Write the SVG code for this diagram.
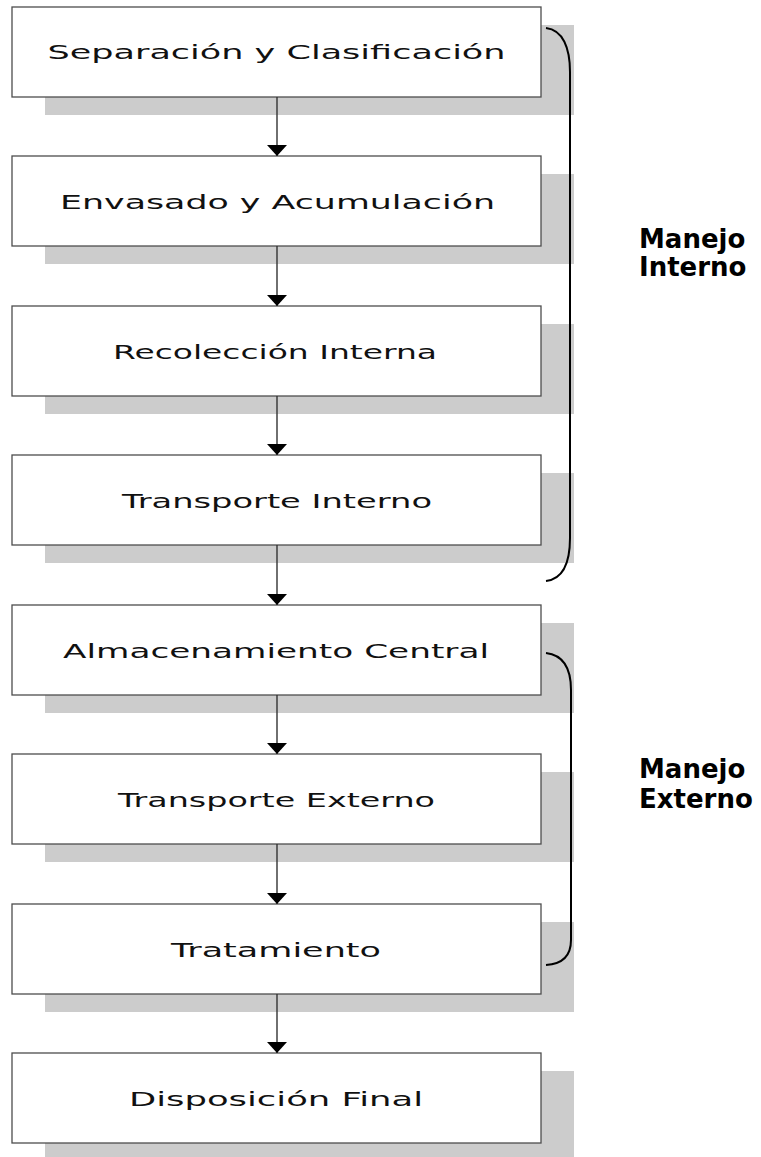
<svg xmlns="http://www.w3.org/2000/svg" width="761" height="1157" viewBox="0 0 761 1157">
  <style>
    .shadow { fill: #cccccc; }
    .box { fill: #ffffff; stroke: #4d4d4d; stroke-width: 1.3; }
    .step { font-family: "DejaVu Sans", "Liberation Sans", sans-serif; font-size: 20px; fill: #111111; text-anchor: middle; }
    .flow { stroke: #333333; stroke-width: 1.4; fill: none; }
    .brace { stroke: #000000; stroke-width: 2; fill: none; }
    .group { font-family: "DejaVu Sans", "Liberation Sans", sans-serif; font-size: 26px; font-weight: bold; fill: #000000; }
  </style>
  <defs>
    <!-- short, wide arrowhead: 11 along the line, 20 across -->
    <marker id="arrow" viewBox="0 0 11 20" refX="11" refY="10" markerWidth="11" markerHeight="20" markerUnits="userSpaceOnUse" orient="auto">
      <path d="M0,0 L11,10 L0,20 Z" fill="#000000"/>
    </marker>
  </defs>

  <rect width="761" height="1157" fill="#ffffff"/>

  <!-- process steps: drop shadow, box, label -->
  <g id="separacion">
    <rect class="shadow" x="45" y="25" width="529" height="90"/>
    <rect class="box" x="12" y="7" width="529" height="90"/>
    <text class="step" x="276.5" y="59" textLength="458" lengthAdjust="spacingAndGlyphs">Separación y Clasificación</text>
  </g>
  <g id="envasado">
    <rect class="shadow" x="45" y="174" width="529" height="90"/>
    <rect class="box" x="12" y="156" width="529" height="90"/>
    <text class="step" x="277.5" y="209" textLength="435" lengthAdjust="spacingAndGlyphs">Envasado y Acumulación</text>
  </g>
  <g id="recoleccion">
    <rect class="shadow" x="45" y="324" width="529" height="90"/>
    <rect class="box" x="12" y="306" width="529" height="90"/>
    <text class="step" x="275" y="359" textLength="324" lengthAdjust="spacingAndGlyphs">Recolección Interna</text>
  </g>
  <g id="transporte-interno">
    <rect class="shadow" x="45" y="473" width="529" height="90"/>
    <rect class="box" x="12" y="455" width="529" height="90"/>
    <text class="step" x="277" y="508" textLength="310" lengthAdjust="spacingAndGlyphs">Transporte Interno</text>
  </g>
  <g id="almacenamiento">
    <rect class="shadow" x="45" y="623" width="529" height="90"/>
    <rect class="box" x="12" y="605" width="529" height="90"/>
    <text class="step" x="276" y="658" textLength="426" lengthAdjust="spacingAndGlyphs">Almacenamiento Central</text>
  </g>
  <g id="transporte-externo">
    <rect class="shadow" x="45" y="772" width="529" height="90"/>
    <rect class="box" x="12" y="754" width="529" height="90"/>
    <text class="step" x="276.5" y="807" textLength="317" lengthAdjust="spacingAndGlyphs">Transporte Externo</text>
  </g>
  <g id="tratamiento">
    <rect class="shadow" x="45" y="922" width="529" height="90"/>
    <rect class="box" x="12" y="904" width="529" height="90"/>
    <text class="step" x="276" y="957" textLength="210" lengthAdjust="spacingAndGlyphs">Tratamiento</text>
  </g>
  <g id="disposicion">
    <rect class="shadow" x="45" y="1071" width="529" height="86"/>
    <rect class="box" x="12" y="1053" width="529" height="90"/>
    <text class="step" x="276" y="1106" textLength="294" lengthAdjust="spacingAndGlyphs">Disposición Final</text>
  </g>

  <!-- flow arrows between consecutive steps -->
  <g id="connectors">
    <line class="flow" x1="277" y1="97" x2="277" y2="156" marker-end="url(#arrow)"/>
    <line class="flow" x1="277" y1="246" x2="277" y2="306" marker-end="url(#arrow)"/>
    <line class="flow" x1="277" y1="396" x2="277" y2="455" marker-end="url(#arrow)"/>
    <line class="flow" x1="277" y1="545" x2="277" y2="605" marker-end="url(#arrow)"/>
    <line class="flow" x1="277" y1="695" x2="277" y2="754" marker-end="url(#arrow)"/>
    <line class="flow" x1="277" y1="844" x2="277" y2="904" marker-end="url(#arrow)"/>
    <line class="flow" x1="277" y1="994" x2="277" y2="1053" marker-end="url(#arrow)"/>
  </g>

  <!-- grouping brackets with their labels -->
  <g id="manejo-interno">
    <path class="brace" d="M546,28 C563,30 570,48 570,72 L570,538 C570,562 563,579 546,581"/>
    <text class="group" x="639" y="248">Manejo</text>
    <text class="group" x="639" y="276">Interno</text>
  </g>
  <g id="manejo-externo">
    <path class="brace" d="M546,653 C563,655 571,668 571,690 L571,940 C571,955 563,964 546,965"/>
    <text class="group" x="639" y="778">Manejo</text>
    <text class="group" x="639" y="808">Externo</text>
  </g>
</svg>
